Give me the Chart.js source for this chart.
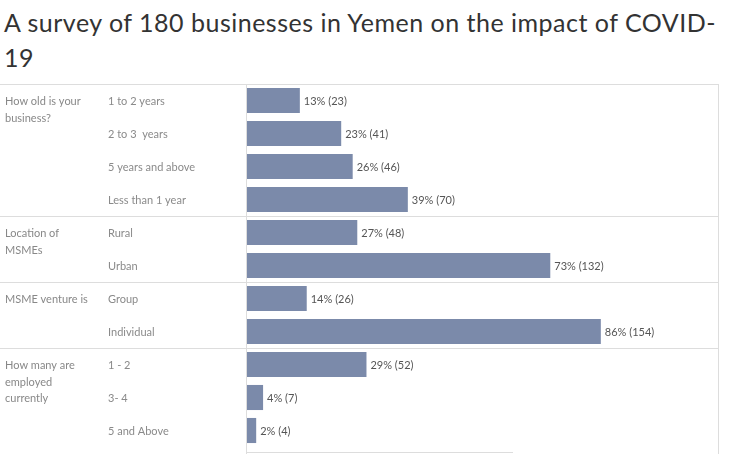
<!DOCTYPE html>
<html>
<head>
<meta charset="utf-8">
<script src="https://cdn.jsdelivr.net/npm/chart.js@4"></script>
<style>
  body { margin: 0; background: #fff; width: 736px; height: 454px; overflow: hidden; }
  #title {
    margin: 0; padding: 5px 0 0 4px; height: 84px; box-sizing: border-box;
    font: normal 25px/35px Lato, sans-serif; letter-spacing: 0.5px; color: #333;
  }
  #c { display: block; }
</style>
</head>
<body>
<h1 id="title">A survey of 180 businesses in Yemen on the impact of COVID-<br>19</h1>
<canvas id="c" width="736" height="370"></canvas>
<script>
const groupLabels = [
  ['How old is your', 'business?'],
  ['Location of', 'MSMEs'],
  ['MSME venture is'],
  ['How many are', 'employed', 'currently']
];
const groupSizes = [4, 2, 2, 3];
const categories = ['1 to 2 years', '2 to 3  years', '5 years and above', 'Less than 1 year',
  'Rural', 'Urban', 'Group', 'Individual', '1 - 2', '3- 4', '5 and Above'];
const counts = [23, 41, 46, 70, 48, 132, 26, 154, 52, 7, 4];
const percents = [13, 23, 26, 39, 27, 73, 14, 86, 29, 4, 2];

const LINE = '#dddddd';
const FONT = 'Lato, sans-serif';

// table lines, group names and value labels
const tablePlugin = {
  id: 'table',
  beforeDatasetsDraw(chart) {
    const { ctx, chartArea } = chart;
    const y = chart.scales.y;
    const right = chartArea.right;
    ctx.save();
    ctx.fillStyle = LINE;
    ctx.fillRect(0, 0, right, 1);
    ctx.fillRect(chartArea.left - 1, 0, 1, chart.height);
    ctx.fillRect(right, 0, 1, chart.height);
    let row = 0;
    groupSizes.forEach((n, g) => {
      row += n;
      if (g < groupSizes.length - 1) {
        const sep = Math.round((y.getPixelForTick(row - 1) + y.getPixelForTick(row)) / 2);
        ctx.fillRect(0, sep, right, 1);
      }
    });
    ctx.fillRect(chartArea.left - 1, chart.height - 2, 267, 1);
    ctx.restore();
  },
  afterDatasetsDraw(chart) {
    const { ctx } = chart;
    const meta = chart.getDatasetMeta(0);
    ctx.save();
    ctx.font = '11px ' + FONT;
    ctx.textBaseline = 'middle';
    ctx.textAlign = 'left';
    ctx.fillStyle = '#555';
    meta.data.forEach((bar, i) => {
      ctx.fillText(`${percents[i]}% (${counts[i]})`, bar.x + 4, bar.y + 1);
    });
    ctx.fillStyle = '#888';
    let row = 0;
    groupLabels.forEach((lines, g) => {
      const top = chart.scales.y.getPixelForTick(row) + 1;
      lines.forEach((t, k) => ctx.fillText(t, 5, top + k * 16.5));
      row += groupSizes[g];
    });
    ctx.restore();
  }
};

new Chart(document.getElementById('c'), {
  type: 'bar',
  data: {
    labels: categories,
    datasets: [{
      data: counts,
      backgroundColor: '#7b8aaa',
      barPercentage: 0.76,
      categoryPercentage: 1
    }]
  },
  options: {
    indexAxis: 'y',
    responsive: false,
    animation: false,
    layout: { padding: { left: 108, right: 18, top: 0, bottom: 7 } },
    plugins: { legend: { display: false }, tooltip: { enabled: false } },
    scales: {
      x: { display: false, min: 0, max: 205 },
      y: {
        grid: { display: false },
        border: { display: false },
        ticks: { crossAlign: 'far', padding: 0, labelOffset: 1, color: '#8a8a8a', font: { family: FONT, size: 11 } },
        afterFit(scale) {
          scale.width = 139;
          scale.paddingTop = 0;
          scale.paddingBottom = 0;
        }
      }
    }
  },
  plugins: [tablePlugin]
});
</script>
</body>
</html>
